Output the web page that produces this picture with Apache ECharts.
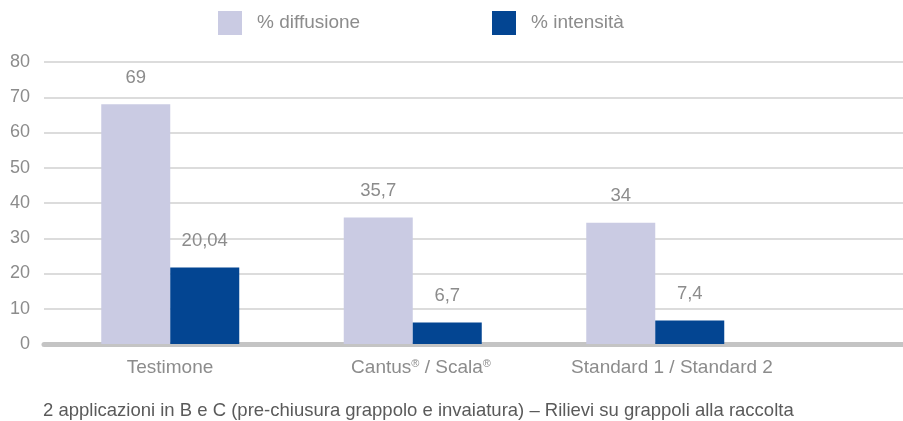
<!DOCTYPE html>
<html>
<head>
<meta charset="utf-8">
<script src="https://cdn.jsdelivr.net/npm/echarts@6/dist/echarts.min.js"></script>
<style>
html,body{margin:0;padding:0;background:#fff;}
#c{width:903px;height:421px;}
</style>
</head>
<body>
<div id="c"></div>
<script>
var categories = ['Testimone', 'Cantus® / Scala®', 'Standard 1 / Standard 2'];
var seriesNames = ['% diffusione', '% intensità'];
var diffusione = [68.0, 35.9, 34.4];
var intensita = [21.7, 6.1, 6.7];
var diffusioneLabels = ['69', '35,7', '34'];
var intensitaLabels = ['20,04', '6,7', '7,4'];
var yTicks = [0, 10, 20, 30, 40, 50, 60, 70, 80];
var footnote = '2 applicazioni in B e C (pre-chiusura grappolo e invaiatura) – Rilievi su grappoli alla raccolta';

var FONT = '"Liberation Sans", Arial, Helvetica, sans-serif';
var GRAY = '#8c8c8c';
var C1 = '#cacbe3', C2 = '#034592';

var chart = echarts.init(document.getElementById('c'), null, {renderer: 'canvas'});
function labelOf(arr) { return function (p) { return arr[p.dataIndex]; }; }
var yMin = yTicks[0], yMax = yTicks[yTicks.length - 1];
var option = {
  animation: false,
  textStyle: {fontFamily: FONT},
  legend: [
    {left: 218, top: 11, padding: 0, itemWidth: 24, itemHeight: 24, icon: 'rect', data: [seriesNames[0]],
     textStyle: {fontFamily: FONT, fontSize: 19, color: GRAY, padding: [0, 0, 0, 10]}},
    {left: 492, top: 11, padding: 0, itemWidth: 24, itemHeight: 24, icon: 'rect', data: [seriesNames[1]],
     textStyle: {fontFamily: FONT, fontSize: 19, color: GRAY, padding: [0, 0, 0, 10]}}
  ],
  grid: [
    {left: 44, right: 0, top: 62, bottom: 77},
    {left: 49, right: 126.5, top: 62, bottom: 77},
    {left: 44.5, right: 105.5, top: 62, bottom: 77}
  ],
  xAxis: [
    {type: 'value', gridIndex: 0, min: 0, max: 1, axisLabel: {show: false}, axisTick: {show: false},
     splitLine: {show: false}, axisLine: {show: true, lineStyle: {color: '#c4c4c4', width: 5}}},
    {type: 'category', gridIndex: 1, data: categories, axisLine: {show: false}, axisTick: {show: false},
     axisLabel: {show: false}},
    {type: 'category', gridIndex: 2, data: categories, axisLine: {show: false}, axisTick: {show: false},
     axisLabel: {interval: 0, margin: 14, fontSize: 19, color: GRAY, fontFamily: FONT,
       formatter: function (v) { return v.replace(/®/g, '{s|®}'); },
       rich: {s: {fontSize: 11, color: GRAY, verticalAlign: 'top', padding: [0, 0, 7, 0], fontFamily: FONT}}}}
  ],
  yAxis: [
    {type: 'value', gridIndex: 0, min: yMin, max: yMax, interval: yTicks[1] - yTicks[0],
     axisLine: {show: false}, axisTick: {show: false},
     axisLabel: {margin: 14, fontSize: 18, color: GRAY, fontFamily: FONT},
     splitLine: {lineStyle: {color: '#d0d0d0', width: 1.5}}},
    {type: 'value', gridIndex: 1, min: yMin, max: yMax, show: false},
    {type: 'value', gridIndex: 2, min: yMin, max: yMax, show: false}
  ],
  series: [
    {name: seriesNames[0], type: 'bar', xAxisIndex: 1, yAxisIndex: 1, data: diffusione, barWidth: 69, barGap: '0%',
     itemStyle: {color: C1},
     label: {show: true, position: 'top', distance: 17, fontSize: 18.5, color: GRAY, fontFamily: FONT, formatter: labelOf(diffusioneLabels)}},
    {name: seriesNames[1], type: 'bar', xAxisIndex: 1, yAxisIndex: 1, data: intensita, barWidth: 69, barGap: '0%',
     itemStyle: {color: C2},
     label: {show: true, position: 'top', distance: 17, fontSize: 18.5, color: GRAY, fontFamily: FONT, formatter: labelOf(intensitaLabels)}}
  ],
  graphic: [
    {type: 'text', left: 43, top: 401, style: {text: footnote, fontSize: 18.5, fill: '#5a5a5a', fontFamily: FONT}}
  ]
};
chart.setOption(option);
</script>
</body>
</html>
